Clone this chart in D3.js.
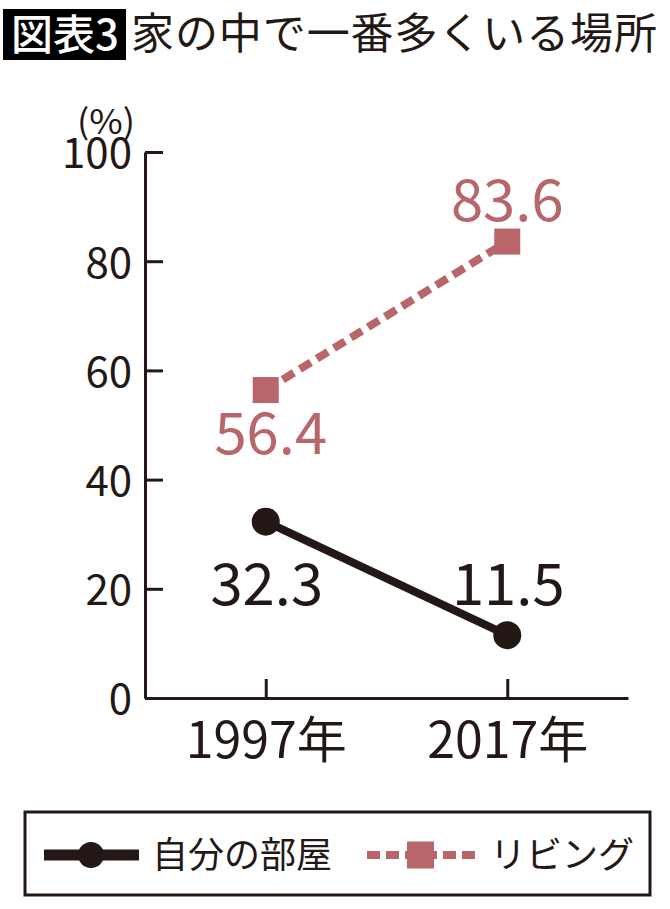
<!DOCTYPE html>
<html><head><meta charset="utf-8">
<script src="https://cdn.jsdelivr.net/npm/d3@7"></script>
<style>
html,body{margin:0;padding:0;background:#fff;}
svg{display:block;font-family:"Noto Sans CJK JP","Noto Sans",sans-serif;}
</style></head>
<body>
<svg id="c" width="670" height="909"></svg>
<script>
const years = ["1997年", "2017年"];
const ownRoom = [32.3, 11.5];
const living = [56.4, 83.6];
const seriesNames = ["自分の部屋", "リビング"];
const yTicks = [0, 20, 40, 60, 80, 100];
const titleTag = "図表3";
const titleText = "家の中で一番多くいる場所";
const unitLabel = "(%)";

const BLACK = "#231815", ROSE = "#b8666a";
const svg = d3.select("#c");

// Title
svg.append("rect").attr("x", 3).attr("y", 9).attr("width", 123).attr("height", 51).attr("fill", "#000");
svg.append("text").attr("x", 65).attr("y", 35).attr("dy", "0.35em").attr("text-anchor", "middle")
  .attr("fill", "#fff").attr("font-size", 42).attr("font-weight", 500).text(titleTag);
svg.append("text").attr("x", 131).attr("y", 34).attr("dy", "0.35em")
  .attr("fill", BLACK).attr("font-size", 43).attr("textLength", 526).text(titleText);

// Scales
const y = d3.scaleLinear().domain([0, 100]).range([698, 152]);
const x = d3.scalePoint().domain(years).range([145, 628]).padding(0.5);

// Y axis
const gy = svg.append("g").attr("transform", "translate(145,0)")
  .call(d3.axisLeft(y).tickValues(yTicks).tickSizeInner(-18).tickSizeOuter(0).tickPadding(13));
gy.select(".domain").attr("stroke", BLACK).attr("stroke-width", 3);
gy.selectAll(".tick line").attr("stroke", BLACK).attr("stroke-width", 3);
gy.selectAll(".tick text").attr("font-size", 42).attr("fill", BLACK).attr("dy", "0.38em")
  .attr("font-family", "'Noto Sans CJK JP','Noto Sans',sans-serif");

// X axis
const gx = svg.append("g").attr("transform", "translate(0,698)")
  .call(d3.axisBottom(x).tickSizeInner(-19).tickSizeOuter(0));
gx.select(".domain").attr("stroke", BLACK).attr("stroke-width", 3);
gx.selectAll(".tick line").attr("stroke", BLACK).attr("stroke-width", 3);
gx.selectAll(".tick text").attr("font-size", 50).attr("fill", BLACK)
  .attr("y", 60).attr("dy", null)
  .attr("font-family", "'Noto Sans CJK JP','Noto Sans',sans-serif");

svg.append("text").attr("x", 77).attr("y", 134)
  .attr("font-size", 34).attr("textLength", 58).attr("lengthAdjust", "spacingAndGlyphs")
  .attr("fill", BLACK).text(unitLabel);

const line = d3.line().x((d, i) => x(years[i])).y(d => y(d));

// Living (dashed, squares)
svg.append("path").datum(living).attr("d", line).attr("fill", "none")
  .attr("stroke", ROSE).attr("stroke-width", 8).attr("stroke-dasharray", "13,7");
const sq = 26;
svg.selectAll(".sq").data(living).enter().append("rect")
  .attr("x", (d, i) => x(years[i]) - sq / 2).attr("y", d => y(d) - sq / 2)
  .attr("width", sq).attr("height", sq).attr("fill", ROSE);

// Own room (solid, circles)
svg.append("path").datum(ownRoom).attr("d", line).attr("fill", "none")
  .attr("stroke", BLACK).attr("stroke-width", 8);
svg.selectAll(".ci").data(ownRoom).enter().append("circle")
  .attr("cx", (d, i) => x(years[i])).attr("cy", d => y(d)).attr("r", 14).attr("fill", BLACK);

// Value labels
const livingLabelDy = [64, -21];
svg.selectAll(".ll").data(living).enter().append("text")
  .attr("x", (d, i) => x(years[i]) + (i === 0 ? 5 : 0)).attr("y", (d, i) => y(d) + livingLabelDy[i])
  .attr("text-anchor", "middle").attr("font-size", 58).attr("fill", ROSE).text(d => d.toFixed(1));
svg.selectAll(".ol").data(ownRoom).enter().append("text")
  .attr("x", (d, i) => x(years[i]) + 1).attr("y", 605)
  .attr("text-anchor", "middle").attr("font-size", 58).attr("fill", BLACK).text(d => d.toFixed(1));

// Legend
svg.append("rect").attr("x", 25).attr("y", 812).attr("width", 625).attr("height", 83)
  .attr("fill", "none").attr("stroke", BLACK).attr("stroke-width", 3);
const ly = 855;
svg.append("line").attr("x1", 44).attr("x2", 139).attr("y1", ly).attr("y2", ly)
  .attr("stroke", BLACK).attr("stroke-width", 11);
svg.append("circle").attr("cx", 91).attr("cy", ly).attr("r", 13).attr("fill", BLACK);
svg.append("text").attr("x", 152).attr("y", ly).attr("dy", "0.35em").attr("font-size", 36)
  .attr("fill", BLACK).text(seriesNames[0]);
svg.append("line").attr("x1", 367).attr("x2", 475).attr("y1", ly).attr("y2", ly)
  .attr("stroke", ROSE).attr("stroke-width", 8).attr("stroke-dasharray", "13,6");
svg.append("rect").attr("x", 407).attr("y", ly - 13.5).attr("width", 27).attr("height", 27).attr("fill", ROSE);
svg.append("text").attr("x", 490).attr("y", ly).attr("dy", "0.35em").attr("font-size", 36)
  .attr("fill", BLACK).text(seriesNames[1]);
</script>
</body></html>
